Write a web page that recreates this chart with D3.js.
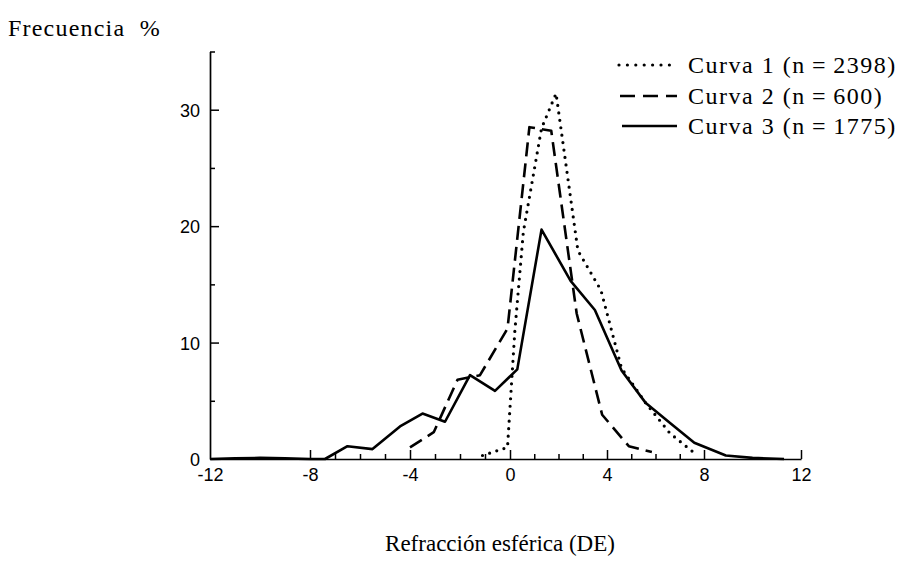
<!DOCTYPE html>
<html>
<head>
<meta charset="utf-8">
<script src="https://cdn.jsdelivr.net/npm/d3@7/dist/d3.min.js"></script>
<style>
  html, body { margin: 0; padding: 0; background: #fff; }
  svg { display: block; }
</style>
</head>
<body>
<svg id="chart" width="902" height="568"></svg>
<script>
// ---- data ----
const xTickValues = [-12, -8, -4, 0, 4, 8, 12];
const xMinorTicks = [-7, -6, -5, -3, -2, -1, 1, 2, 3, 5, 6, 7];
const yTickValues = [0, 10, 20, 30];
const yMinorTicks = [5, 15, 25, 35];

const seriesNames = ["Curva 1 (n=2398)", "Curva 2 (n=600)", "Curva 3 (n=1775)"];

const curve1X = [-1.1, -0.1, 0.2, 0.55, 1.3, 1.9, 2.8, 3.75, 4.6, 5.6, 6.6, 7.7];
const curve1Y = [0.3, 1.0, 11, 19.5, 28.4, 31.4, 17.9, 14.5, 7.8, 4.8, 2.2, 0.35];

const curve2X = [-4, -3.05, -2.1, -1.2, -0.1, 0.8, 1.7, 2.75, 3.8, 4.9, 5.85];
const curve2Y = [1.0, 2.3, 6.8, 7.2, 11.2, 28.5, 28.2, 12.5, 3.8, 1.1, 0.6];

const curve3X = [-12, -11, -10, -9, -8, -7.4, -6.5, -5.5, -4.4, -3.5, -2.6, -1.6, -0.6, 0.3, 1.3, 2.5, 3.5, 4.6, 5.6, 6.6, 7.6, 8.9, 10, 11.3];
const curve3Y = [0, 0.05, 0.1, 0.05, 0, 0, 1.1, 0.85, 2.8, 3.9, 3.2, 7.2, 5.85, 7.7, 19.7, 15.3, 12.8, 7.6, 4.8, 3.1, 1.4, 0.3, 0.1, 0];

// ---- drawing ----
const svg = d3.select("#chart");
const x = d3.scaleLinear().domain([-12, 0, 12]).range([210, 510, 801]);
const y = d3.scaleLinear().domain([0, 35]).range([459, 51.5]);

const serif = "'Liberation Serif', 'Times New Roman', serif";
const sans = "'Liberation Sans', Arial, Helvetica, sans-serif";
const plainFormat = d => String(d);

// axes
const xAxis = d3.axisBottom(x).tickValues(xTickValues).tickSizeInner(-9).tickSizeOuter(0).tickPadding(22).tickFormat(plainFormat);
const gx = svg.append("g").attr("transform", `translate(0,${y(0)})`).call(xAxis);
gx.selectAll(".tick").filter(d => d === -12).select("line").remove();

const xMinor = d3.axisBottom(x).tickValues(xMinorTicks).tickSizeInner(-5).tickSizeOuter(0).tickFormat("");
const gxm = svg.append("g").attr("transform", `translate(0,${y(0)})`).call(xMinor);
gxm.select(".domain").remove();

const yAxis = d3.axisLeft(y).tickValues(yTickValues).tickSizeInner(-9).tickSizeOuter(0).tickPadding(10).tickFormat(plainFormat);
const gy = svg.append("g").attr("transform", `translate(${x(-12)},0)`).call(yAxis);
gy.selectAll(".tick").filter(d => d === 0).select("line").remove();

const yMinor = d3.axisLeft(y).tickValues(yMinorTicks).tickSizeInner(-5).tickSizeOuter(0).tickFormat("");
const gym = svg.append("g").attr("transform", `translate(${x(-12)},0)`).call(yMinor);
gym.select(".domain").remove();

svg.selectAll(".domain").attr("stroke", "#000").attr("stroke-width", 1.7);
svg.selectAll(".tick line").attr("stroke", "#000").attr("stroke-width", 1.5);
svg.selectAll(".tick text").attr("font-family", sans).attr("font-size", 18).attr("fill", "#000");
gx.selectAll(".tick text").attr("dy", "0");
gy.selectAll(".tick text").attr("dy", "0.36em");

// lines
const line = d3.line().x(d => x(d[0])).y(d => y(d[1]));
const styles = [
  { dash: "0 7.5", cap: "round", width: 3.2 },
  { dash: "14 7", cap: "butt", width: 2.6 },
  { dash: null, cap: "butt", width: 2.6 }
];
const curves = [
  d3.zip(curve1X, curve1Y),
  d3.zip(curve2X, curve2Y),
  d3.zip(curve3X, curve3Y)
];
curves.forEach((pts, i) => {
  svg.append("path")
    .datum(pts)
    .attr("d", line)
    .attr("fill", "none")
    .attr("stroke", "#000")
    .attr("stroke-width", styles[i].width)
    .attr("stroke-linecap", styles[i].cap)
    .attr("stroke-linejoin", "round")
    .attr("stroke-dasharray", styles[i].dash);
});

// legend
const legendRowsY = [65, 96, 126];
const legend = svg.append("g");
seriesNames.forEach((name, i) => {
  legend.append("line")
    .attr("x1", i === 0 ? 619 : (i === 1 ? 620 : 622)).attr("x2", 677)
    .attr("y1", legendRowsY[i]).attr("y2", legendRowsY[i])
    .attr("stroke", "#000")
    .attr("stroke-width", styles[i].width)
    .attr("stroke-linecap", styles[i].cap)
    .attr("stroke-dasharray", i === 0 ? "0 8.4" : (i === 1 ? "15 8" : null));
  legend.append("text")
    .attr("x", 688).attr("y", legendRowsY[i] + 8)
    .attr("font-family", serif).attr("font-size", 24)
    .attr("letter-spacing", 1.5)
    .attr("fill", "#000")
    .attr("xml:space", "preserve")
    .text(name.replace("=", "\u2009=\u2009"));
});

// titles
svg.append("text")
  .attr("x", 8).attr("y", 36)
  .attr("font-family", serif).attr("font-size", 24).attr("fill", "#000")
  .attr("letter-spacing", 1.2)
  .attr("xml:space", "preserve")
  .text("Frecuencia  %");

svg.append("text")
  .attr("x", 500).attr("y", 551)
  .attr("text-anchor", "middle")
  .attr("font-family", serif).attr("font-size", 23).attr("fill", "#000")
  .text("Refracción esférica (DE)");
</script>
</body>
</html>
